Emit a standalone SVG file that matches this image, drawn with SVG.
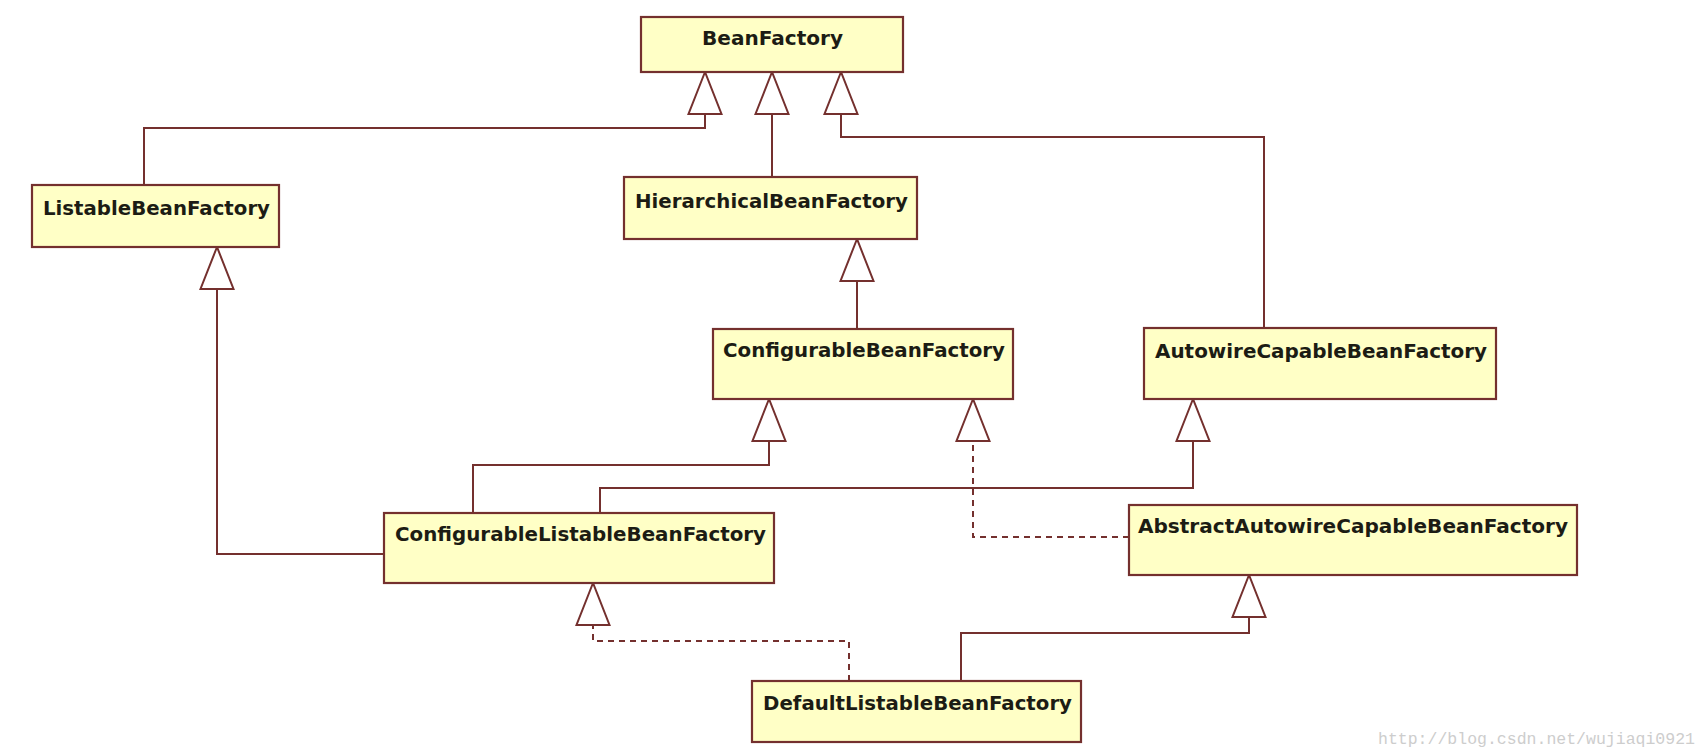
<svg xmlns="http://www.w3.org/2000/svg" xmlns:xlink="http://www.w3.org/1999/xlink" width="1708" height="750" viewBox="0 0 1708 750">
<style>
.box{fill:#ffffc6;stroke:#74302e;stroke-width:2.2}
.lbl{font-family:"DejaVu Sans","Verdana",sans-serif;font-weight:bold;font-size:20px;fill:#1c1c14}
.c{fill:none;stroke:#74302e;stroke-width:2}
.d{fill:none;stroke:#74302e;stroke-width:2;stroke-dasharray:6,5}
.tri{fill:#ffffff;stroke:#74302e;stroke-width:2}
.wm{font-family:"Liberation Mono",monospace;font-size:16.5px;fill:#cdcdcd}
</style>
<defs>
<polygon id="t" points="0,0 -16.5,42 16.5,42"/>
</defs>
<rect width="1708" height="750" fill="#ffffff"/>
<g id="connectors">
<path class="c" d="M144,185 V128 H705 V114"/>
<path class="c" d="M772,177 V114"/>
<path class="c" d="M1264,328 V137 H841 V114"/>
<path class="c" d="M857,329 V281"/>
<path class="c" d="M384,554 H217 V288"/>
<path class="c" d="M473,513 V465 H769 V441"/>
<path class="c" d="M600,513 V488 H1193 V441"/>
<path class="d" d="M1129,537 H973 V441"/>
<path class="d" d="M849,681 V641 H593 V625"/>
<path class="c" d="M961,681 V633 H1249 V617"/>
<use xlink:href="#t" class="tri" x="705" y="72"/>
<use xlink:href="#t" class="tri" x="772" y="72"/>
<use xlink:href="#t" class="tri" x="841" y="72"/>
<use xlink:href="#t" class="tri" x="857" y="239"/>
<use xlink:href="#t" class="tri" x="217" y="247"/>
<use xlink:href="#t" class="tri" x="769" y="399"/>
<use xlink:href="#t" class="tri" x="973" y="399"/>
<use xlink:href="#t" class="tri" x="1193" y="399"/>
<use xlink:href="#t" class="tri" x="593" y="583"/>
<use xlink:href="#t" class="tri" x="1249" y="575"/>
</g>
<g id="BeanFactory">
<rect class="box" x="641" y="17" width="262" height="55"/>
<text class="lbl" x="702" y="45" textLength="141" lengthAdjust="spacingAndGlyphs">BeanFactory</text>
</g>
<g id="ListableBeanFactory">
<rect class="box" x="32" y="185" width="247" height="62"/>
<text class="lbl" x="43" y="215" textLength="227" lengthAdjust="spacingAndGlyphs">ListableBeanFactory</text>
</g>
<g id="HierarchicalBeanFactory">
<rect class="box" x="624" y="177" width="293" height="62"/>
<text class="lbl" x="635" y="208" textLength="273" lengthAdjust="spacingAndGlyphs">HierarchicalBeanFactory</text>
</g>
<g id="ConfigurableBeanFactory">
<rect class="box" x="713" y="329" width="300" height="70"/>
<text class="lbl" x="723" y="357" textLength="282" lengthAdjust="spacingAndGlyphs">ConfigurableBeanFactory</text>
</g>
<g id="AutowireCapableBeanFactory">
<rect class="box" x="1144" y="328" width="352" height="71"/>
<text class="lbl" x="1155" y="358" textLength="332" lengthAdjust="spacingAndGlyphs">AutowireCapableBeanFactory</text>
</g>
<g id="ConfigurableListableBeanFactory">
<rect class="box" x="384" y="513" width="390" height="70"/>
<text class="lbl" x="395" y="541" textLength="371" lengthAdjust="spacingAndGlyphs">ConfigurableListableBeanFactory</text>
</g>
<g id="AbstractAutowireCapableBeanFactory">
<rect class="box" x="1129" y="505" width="448" height="70"/>
<text class="lbl" x="1138" y="533" textLength="430" lengthAdjust="spacingAndGlyphs">AbstractAutowireCapableBeanFactory</text>
</g>
<g id="DefaultListableBeanFactory">
<rect class="box" x="752" y="681" width="329" height="61"/>
<text class="lbl" x="763" y="710" textLength="309" lengthAdjust="spacingAndGlyphs">DefaultListableBeanFactory</text>
</g>
<text class="wm" x="1378" y="744" textLength="317" lengthAdjust="spacingAndGlyphs">http://blog.csdn.net/wujiaqi0921</text>
</svg>
